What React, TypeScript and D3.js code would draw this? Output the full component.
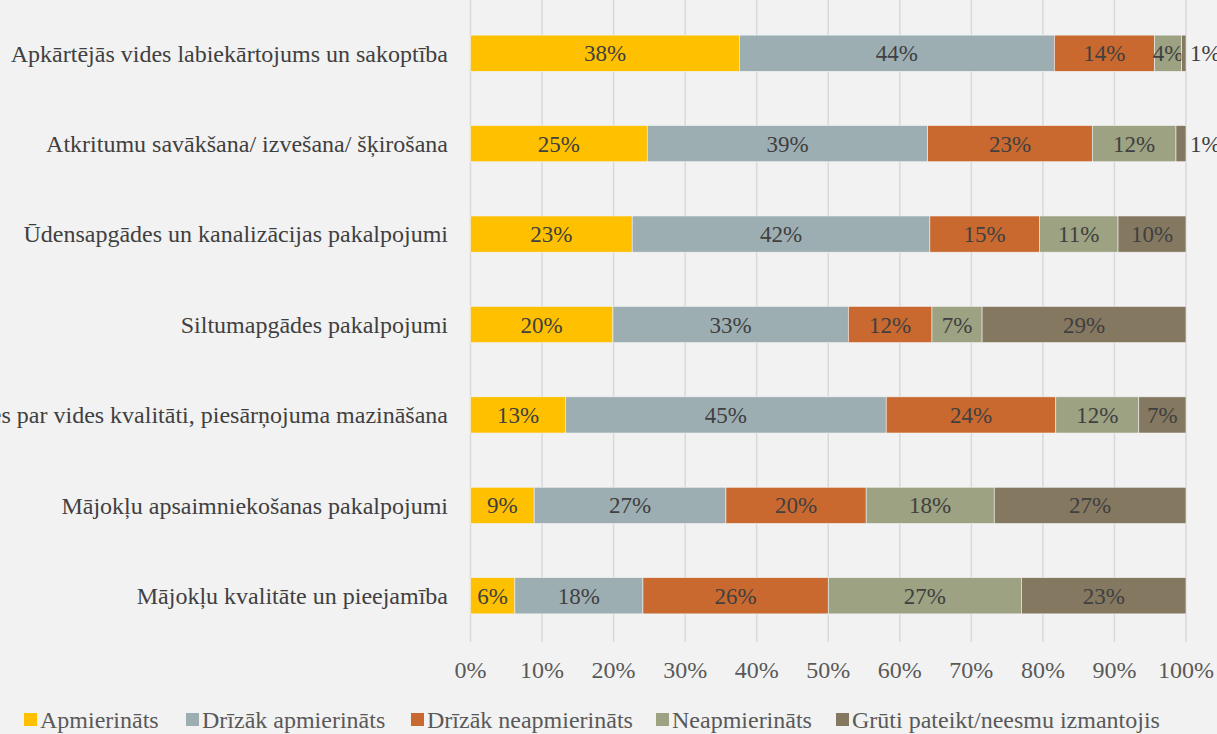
import React from "react";
import * as d3 from "d3";

const categories = [
  "Apkārtējās vides labiekārtojums un sakoptība",
  "Atkritumu savākšana/ izvešana/ šķirošana",
  "Ūdensapgādes un kanalizācijas pakalpojumi",
  "Siltumapgādes pakalpojumi",
  "Rūpes par vides kvalitāti, piesārņojuma mazināšana",
  "Mājokļu apsaimniekošanas pakalpojumi",
  "Mājokļu kvalitāte un pieejamība",
];

const seriesNames = [
  "Apmierināts",
  "Drīzāk apmierināts",
  "Drīzāk neapmierināts",
  "Neapmierināts",
  "Grūti pateikt/neesmu izmantojis",
];

const apmierinats = [37.6, 24.7, 22.6, 19.9, 13.3, 8.9, 6.2];
const drizakApmierinats = [44.0, 39.2, 41.6, 32.9, 44.8, 26.8, 17.9];
const drizakNeapmierinats = [14.0, 23.0, 15.3, 11.7, 23.7, 19.6, 25.9];
const neapmierinats = [3.8, 11.7, 11.0, 7.0, 11.6, 17.9, 27.0];
const gruti = [0.6, 1.4, 9.5, 28.5, 6.6, 26.8, 23.0];

const xTicks = [0, 10, 20, 30, 40, 50, 60, 70, 80, 90, 100];

const colors = ["#FFC000", "#9DAEB3", "#C96930", "#9CA282", "#857860"];

const W = 1217;
const H = 734;
const FONT = "'Liberation Serif', 'Times New Roman', serif";

export default function App() {
  const seriesValues = [apmierinats, drizakApmierinats, drizakNeapmierinats, neapmierinats, gruti];
  const rows = categories.map((c, i) => {
    const r: any = { cat: c };
    seriesNames.forEach((s, j) => (r[s] = seriesValues[j][i]));
    return r;
  });
  const stack = d3.stack<any>().keys(seriesNames)(rows);

  const x = d3.scaleLinear().domain([0, 100]).range([470.5, 1186]);
  const y = d3.scaleBand().domain(categories).range([8, 641]).paddingInner(0.6).paddingOuter(0.3);

  const legendX = [24, 186, 411, 656, 836];

  return (
    <svg
      width={W}
      height={H}
      style={{ position: "absolute", left: 0, top: 0, background: "#F2F2F2" }}
      fontFamily={FONT}
    >
      <rect x={0} y={0} width={W} height={H} fill="#F2F2F2" />
      {xTicks.map((t) => (
        <line key={t} x1={x(t)} x2={x(t)} y1={0} y2={642} stroke="#D9D9D9" strokeWidth={1.5} />
      ))}
      {xTicks.map((t) => (
        <text key={"t" + t} x={x(t)} y={678} textAnchor="middle" fontSize={24} fill="#595959">
          {t}%
        </text>
      ))}
      {categories.map((c) => (
        <text
          key={c}
          x={448}
          y={(y(c) as number) + y.bandwidth() / 2}
          dy="0.35em"
          textAnchor="end"
          fontSize={24}
          fill="#404040"
        >
          {c}
        </text>
      ))}
      {stack.map((layer, j) => (
        <g key={layer.key}>
          {layer.map((d, i) => {
            const x0 = x(d[0]);
            const x1 = x(d[1]);
            const yy = y(categories[i]) as number;
            const v = d[1] - d[0];
            const small = v < 2;
            return (
              <g key={i}>
                <rect x={x0} y={yy} width={x1 - x0} height={y.bandwidth()} fill={colors[j]} stroke="#F2F2F2" strokeWidth={0.6} />
                <text
                  x={small ? x1 + 4 : (x0 + x1) / 2}
                  y={yy + y.bandwidth() / 2}
                  dy="0.35em"
                  textAnchor={small ? "start" : "middle"}
                  fontSize={23}
                  fill="#404040"
                >
                  {Math.round(v)}%
                </text>
              </g>
            );
          })}
        </g>
      ))}
      {seriesNames.map((s, j) => (
        <g key={s}>
          <rect x={legendX[j]} y={713} width={13} height={13} fill={colors[j]} />
          <text x={legendX[j] + 16} y={720} dy="0.35em" fontSize={24} fill="#595959">
            {s}
          </text>
        </g>
      ))}
    </svg>
  );
}
